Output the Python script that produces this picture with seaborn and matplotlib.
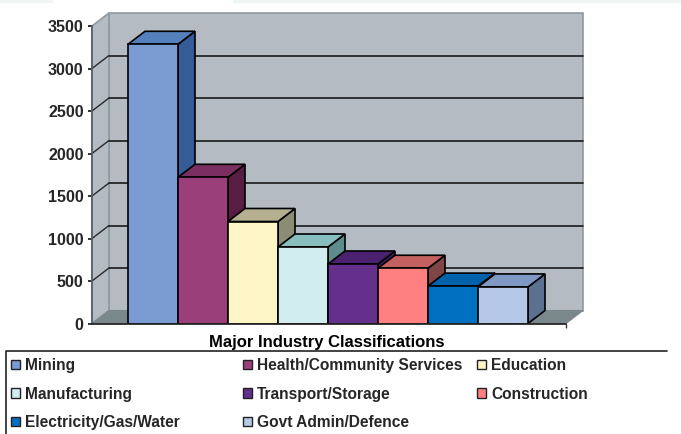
import matplotlib
matplotlib.use('Agg')
import matplotlib.pyplot as plt
from matplotlib.patches import Polygon, Patch, Rectangle
from matplotlib.lines import Line2D
import pandas as pd
import seaborn as sns

# Chart data
industries = ['Mining', 'Health/Community Services', 'Education', 'Manufacturing',
              'Transport/Storage', 'Construction', 'Electricity/Gas/Water', 'Govt Admin/Defence']
employment = [3285, 1720, 1200, 900, 700, 650, 440, 430]
y_ticks = [0, 500, 1000, 1500, 2000, 2500, 3000, 3500]

# front, top, side colour of each bar
front_colors = ['#7B9BD3', '#9B3F7B', '#FFF6C8', '#D2EDF0', '#652F8C', '#FF8080', '#0070C0', '#B6C8E8']
top_colors = ['#5480BC', '#7A2F60', '#B5B090', '#88BEBE', '#4A2270', '#C46060', '#0062AA', '#8098C4']
side_colors = ['#355C96', '#571D42', '#8C8C75', '#5E8C8C', '#3C1A5C', '#804545', '#004F8A', '#5C7090']

sns.set_theme(style='white')
plt.rcParams['font.family'] = ['Liberation Sans', 'DejaVu Sans']
plt.rcParams['font.weight'] = 'bold'

W, H = 681, 434
fig = plt.figure(figsize=(W / 100, H / 100), dpi=100)
ax = fig.add_axes([92 / W, 1 - 323.5 / H, 474 / W, 297.5 / H])
ax.patch.set_alpha(0)

# pale strips along the top edge of the screenshot
for sx, sw in [(0, 53), (233, 448)]:
    fig.add_artist(Rectangle((sx / W, 1 - 3 / H), sw / W, 3 / H, fc='#EEF5F2', ec='none'))

df = pd.DataFrame({'industry': industries, 'value': employment})
sns.barplot(data=df, x='industry', y='value', hue='industry', palette=front_colors,
            dodge=False, width=1.0, edgecolor='black', linewidth=1.2, legend=False,
            saturation=1, ax=ax)
bars = list(ax.patches)

x0, x1 = -0.5 - 36 / 50, -0.5 + 438 / 50
ax.set_xlim(x0, x1)
ax.set_ylim(0, 3500)
dx, dy = 17 / 50, 13 / 0.085

# walls and floor
wall = '#B4BBC2'
edge = '#8D9AA0'
ax.add_patch(Polygon([(x0 + dx, dy), (x1 + dx, dy), (x1 + dx, 3500 + dy), (x0 + dx, 3500 + dy)],
                     fc=wall, ec=edge, lw=1.2, clip_on=False, zorder=0))
ax.add_patch(Polygon([(x0, 0), (x0 + dx, dy), (x0 + dx, 3500 + dy), (x0, 3500)],
                     fc=wall, ec=edge, lw=1.2, clip_on=False, zorder=0))
ax.add_patch(Polygon([(x0, 0), (x1, 0), (x1 + dx, dy), (x0 + dx, dy)],
                     fc='#7A878B', ec='#7A878B', lw=0.8, clip_on=False, zorder=0.5))
for t in y_ticks[1:-1]:
    ax.plot([x0 + dx, x1 + dx], [t + dy, t + dy], color='#1A1A1A', lw=1.2, clip_on=False, zorder=1)
    ax.plot([x0, x0 + dx], [t, t + dy], color='#2A2A2A', lw=1.0, clip_on=False, zorder=1)

# bar depth faces, painted left to right so each front hides the previous side
for i, bar in enumerate(bars):
    left, right = bar.get_x(), bar.get_x() + bar.get_width()
    h = bar.get_height()
    ax.add_patch(Polygon([(right, 0), (right + dx, dy), (right + dx, h + dy), (right, h)],
                         fc=side_colors[i], ec='black', lw=1.2, clip_on=False, zorder=3 + 2 * i))
    ax.add_patch(Polygon([(left, h), (left + dx, h + dy), (right + dx, h + dy), (right, h)],
                         fc=top_colors[i], ec='black', lw=1.2, clip_on=False, zorder=3 + 2 * i))
    bar.set_zorder(4 + 2 * i)

ax.set_yticks(y_ticks)
ax.set_xticks([x1])
ax.set_xticklabels([''])
ax.tick_params(axis='y', length=3, width=1.2, color='#111111', left=True, pad=3, labelsize=11.5)
ax.tick_params(axis='x', length=3, width=1.0, color='#333333', bottom=True)
ax.set_ylabel('')
ax.set_xlabel('')
for s in ['top', 'right']:
    ax.spines[s].set_visible(False)
ax.spines['left'].set_color('#555F64')
ax.spines['bottom'].set_color('#222222')
ax.spines['bottom'].set_zorder(30)

fig.text(327 / W, 1 - 343 / H, 'Major Industry Classifications', ha='center', va='center',
         fontsize=12, fontweight='bold', color='black')

# legend frame: open on the right and at the bottom
fig.add_artist(Line2D([5.5 / W, 5.5 / W, 667 / W], [0, 1 - 351 / H, 1 - 351 / H],
                      color='#222222', lw=1.2))

# Excel fills the legend row by row, one legend per column gives the same layout
columns = [[0, 3, 6], [1, 4, 7], [2, 5]]
col_x = [8, 240, 474]
for idx, cx in zip(columns, col_x):
    handles = [Patch(fc=front_colors[i], ec='#222222', lw=1.0) for i in idx]
    labels = [industries[i] for i in idx]
    fig.legend(handles, labels, loc='upper left', bbox_to_anchor=(cx / W, 1 - 355 / H),
               frameon=False, fontsize=11.2, handlelength=0.55, handleheight=0.55,
               handletextpad=0.35, labelspacing=0.87, borderpad=0.2, borderaxespad=0)

fig.savefig('out.png', dpi=100)
